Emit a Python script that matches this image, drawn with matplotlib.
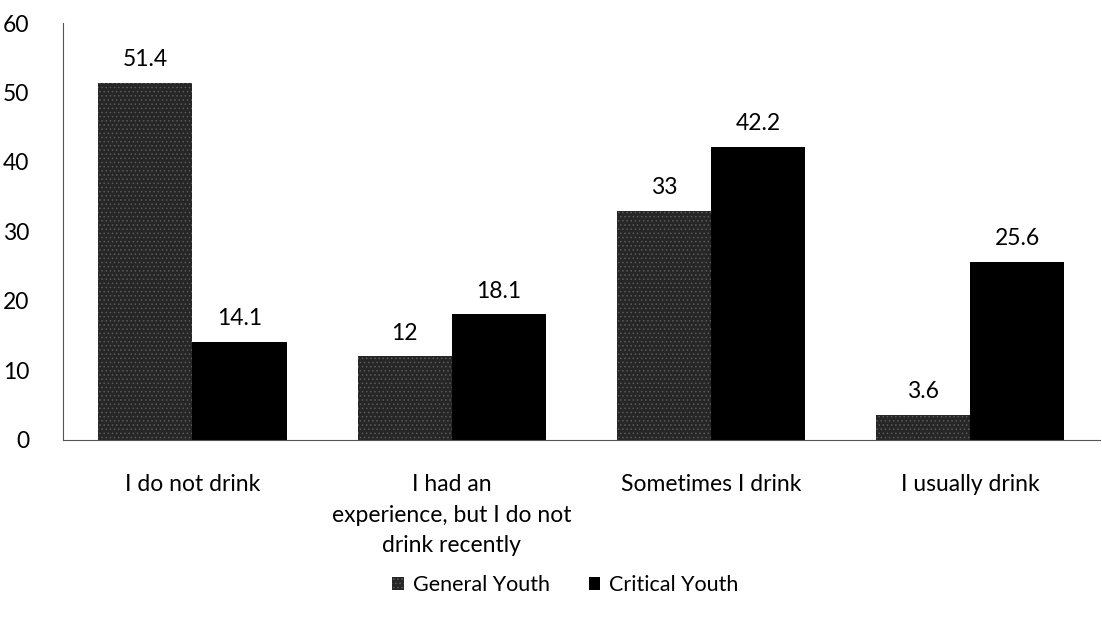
import matplotlib.pyplot as plt
import numpy as np

categories = ["I do not drink", "I had an\nexperience, but I do not\ndrink recently",
              "Sometimes I drink", "I usually drink"]
general_youth = [51.4, 12, 33, 3.6]
critical_youth = [14.1, 18.1, 42.2, 25.6]
value_labels_general = ["51.4", "12", "33", "3.6"]
value_labels_critical = ["14.1", "18.1", "42.2", "25.6"]

plt.rcParams['font.family'] = ['Lato', 'DejaVu Sans']
plt.rcParams['hatch.linewidth'] = 0.6

fig = plt.figure(figsize=(11.02, 6.22), dpi=100, facecolor='white')
ax = fig.add_axes([0.057, 0.293, 0.941, 0.670])

x = np.arange(len(categories))
w = 0.363

b1 = ax.bar(x - w / 2, general_youth, w, color='#262626', edgecolor='#5a5a5a',
            hatch='....', linewidth=0, label='General Youth')
b2 = ax.bar(x + w / 2, critical_youth, w, color='#000000', linewidth=0,
            label='Critical Youth')

for bars, labels in [(b1, value_labels_general), (b2, value_labels_critical)]:
    for rect, lab in zip(bars, labels):
        ax.annotate(lab, (rect.get_x() + rect.get_width() / 2, rect.get_height()),
                    xytext=(0, 9), textcoords='offset points',
                    ha='center', va='bottom', fontsize=16.5)

ax.set_xlim(-0.5, 3.5)
ax.set_ylim(0, 60)
ax.set_yticks(range(0, 61, 10))
ax.set_xticks(x)
ax.set_xticklabels(categories, fontsize=16.5, linespacing=1.55)
ax.tick_params(axis='y', length=0, labelsize=16.5, pad=24)
ax.tick_params(axis='x', length=0, pad=25)

for s in ['top', 'right']:
    ax.spines[s].set_visible(False)
ax.spines['left'].set_color('#555555')
ax.spines['bottom'].set_color('#555555')

leg = fig.legend(handles=[b1, b2], loc='center', bbox_to_anchor=(0.513, 0.06),
                 ncol=2, frameon=False, fontsize=15.5, handlelength=0.55,
                 handleheight=0.55, columnspacing=1.8, handletextpad=0.4)

plt.savefig('out.png', dpi=100, facecolor='white')
plt.close()
